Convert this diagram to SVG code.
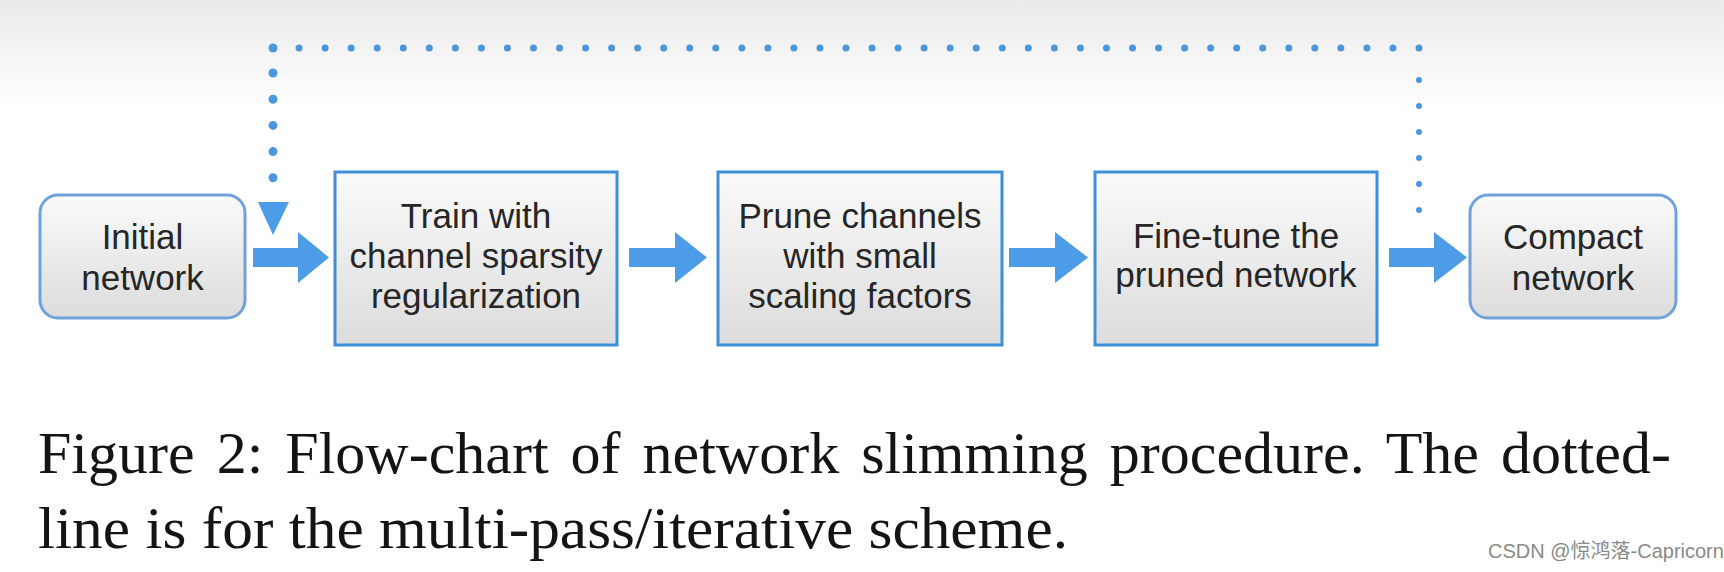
<svg xmlns="http://www.w3.org/2000/svg" width="1724" height="572" viewBox="0 0 1724 572">
<defs>
<linearGradient id="bg" x1="0" y1="0" x2="0" y2="1">
<stop offset="0" stop-color="#eaeaea"/>
<stop offset="1" stop-color="#ffffff"/>
</linearGradient>
<linearGradient id="boxfill" x1="0" y1="0" x2="0" y2="1">
<stop offset="0" stop-color="#fafafa"/>
<stop offset="1" stop-color="#dcdcdc"/>
</linearGradient>
<style>
.box{fill:url(#boxfill);stroke:#3c8fd8;stroke-width:3}
.rbox{fill:url(#boxfill);stroke:#6fa2dd;stroke-width:3}
.lbl{font-family:"Liberation Sans",Arial,sans-serif;font-size:35px;fill:#262626;text-anchor:middle}
.arrow{fill:#4c9ce8}
.dot{fill:none;stroke:#4c96dc;stroke-linecap:round}
.cap{font-family:"Liberation Serif","Times New Roman",serif;font-size:60px;fill:#141414}
.wm{font-family:"Liberation Sans",Arial,"Noto Sans CJK SC",sans-serif;font-size:20px;fill:#8a8a8a}
</style>
</defs>
<rect x="0" y="0" width="1724" height="572" fill="#ffffff"/>
<rect x="0" y="0" width="1724" height="110" fill="url(#bg)"/>
<g id="connectors">
<path class="dot" d="M1419 210 V79" stroke-width="6" stroke-dasharray="0 26"/>
<path class="dot" d="M1419 48 H273" stroke-width="7" stroke-dasharray="0 26.045"/>
<path class="dot" d="M273 73 V180" stroke-width="9" stroke-dasharray="0 26.2"/>
<circle cx="273" cy="48" r="4.5" fill="#4c96dc"/>
<polygon class="arrow" points="258,202 289,202 273,235"/>
<polygon class="arrow" points="253,248 298,248 298,232 329,257.5 298,283 298,267 253,267"/>
<polygon class="arrow" points="629,248 675,248 675,232 707,257.5 675,283 675,267 629,267"/>
<polygon class="arrow" points="1009,248 1055,248 1055,232 1088,257.5 1055,283 1055,267 1009,267"/>
<polygon class="arrow" points="1389,248 1434,248 1434,232 1467,257.5 1434,283 1434,267 1389,267"/>
</g>
<g id="initial">
<rect class="rbox" x="40" y="195" width="205" height="123" rx="18"/>
<text class="lbl" x="142.5" y="249">Initial</text>
<text class="lbl" x="142.5" y="290">network</text>
</g>
<g id="train">
<rect class="box" x="335" y="172" width="282" height="173"/>
<text class="lbl" x="476" y="228">Train with</text>
<text class="lbl" x="476" y="268">channel sparsity</text>
<text class="lbl" x="476" y="308">regularization</text>
</g>
<g id="prune">
<rect class="box" x="718" y="172" width="284" height="173"/>
<text class="lbl" x="860" y="228">Prune channels</text>
<text class="lbl" x="860" y="268">with small</text>
<text class="lbl" x="860" y="308">scaling factors</text>
</g>
<g id="finetune">
<rect class="box" x="1095" y="172" width="282" height="173"/>
<text class="lbl" x="1236" y="248">Fine-tune the</text>
<text class="lbl" x="1236" y="287">pruned network</text>
</g>
<g id="compact">
<rect class="rbox" x="1470" y="195" width="206" height="123" rx="18"/>
<text class="lbl" x="1573" y="249">Compact</text>
<text class="lbl" x="1573" y="290">network</text>
</g>
<g id="caption">
<text class="cap" x="38" y="473" word-spacing="7">Figure 2: Flow-chart of network slimming procedure.  The dotted-</text>
<text class="cap" x="38" y="548" textLength="1030" lengthAdjust="spacingAndGlyphs">line is for the multi-pass/iterative scheme.</text>
</g>
<text class="wm" x="1488" y="558">CSDN @惊鸿落-Capricorn</text>
</svg>
